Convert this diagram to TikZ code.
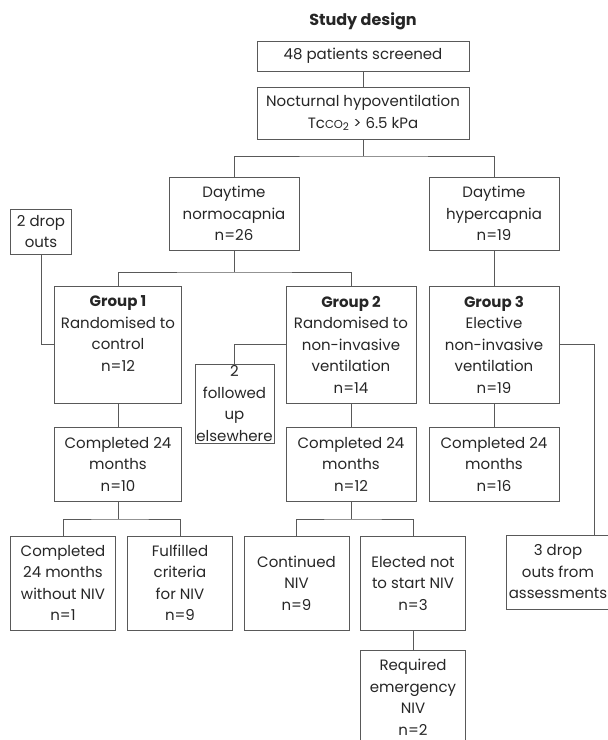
\documentclass[tikz,border=0pt]{standalone}
\usepackage{fontspec}
\setmainfont{Poppins}
\newcommand{\boxfont}{\fontsize{15}{21.5}\selectfont}
\tikzset{
  box/.style={draw=black!65, line width=1pt, text=black!85, align=center,
    inner sep=0pt, font=\boxfont},
  link/.style={draw=black!65, line width=1pt},
}

\begin{document}
\begin{tikzpicture}[x=1pt,y=1pt,yscale=-1,xscale=1]
\path[use as bounding box] (0,0) rectangle (608,740);
\clip (0,0) rectangle (608,740);
%Title
\node[text=black!85, font=\fontsize{16}{18}\selectfont\bfseries] (title) at (363,21) {Study design};

%Boxes: screening
\node[box, minimum width=212, minimum height=30] (screen) at (363,56) {48 patients screened};
\node[box, minimum width=212, minimum height=52] (noct) at (363,113) {Nocturnal hypoventilation\\Tc{\fontsize{11.5}{11.5}\selectfont CO}\textsubscript{2} > 6.5 kPa};

%Boxes: daytime
\node[box, minimum width=130, minimum height=73] (normo) at (234,213.5) {Daytime\\normocapnia\\n=26};
\node[box, minimum width=130, minimum height=73] (hyper) at (494,213.5) {Daytime\\hypercapnia\\n=19};
\node[box, minimum width=61, minimum height=45] (drop1) at (41,231.5) {2 drop\\outs};

%Boxes: groups
\node[box, minimum width=127, minimum height=117] (g1) at (118,344.5) {\textbf{Group 1}\\Randomised to\\control\\n=12\\\mbox{}};
\node[box, minimum width=130, minimum height=117] (g2) at (351,344.5) {\textbf{Group 2}\\Randomised to\\non-invasive\\ventilation\\n=14};
\node[box, minimum width=130, minimum height=117] (g3) at (494,344.5) {\textbf{Group 3}\\Elective\\non-invasive\\ventilation\\n=19};
\node[box, minimum width=79, minimum height=79] (fu) at (234.5,403.5) {2\\followed\\up\\elsewhere};

%Boxes: 24 months
\node[box, minimum width=127, minimum height=74] (c1) at (118,464) {Completed 24\\months\\n=10};
\node[box, minimum width=130, minimum height=74] (c2) at (351,464) {Completed 24\\months\\n=12};
\node[box, minimum width=130, minimum height=74] (c3) at (494,464) {Completed 24\\months\\n=16};

%Boxes: outcomes
\node[box, minimum width=105, minimum height=94] (w1) at (63,583) {Completed\\24 months\\without NIV\\n=1};
\node[box, minimum width=105, minimum height=94] (f1) at (180,583) {Fulfilled\\criteria\\for NIV\\n=9};
\node[box, minimum width=105, minimum height=94] (cn) at (296.5,583) {Continued\\NIV\\n=9};
\node[box, minimum width=105, minimum height=94] (el) at (413,583) {Elected not\\to start NIV\\n=3};
\node[box, minimum width=105, minimum height=95] (em) at (413,697.5) {Required\\emergency\\NIV\\n=2};
\node[box, minimum width=104, minimum height=74] (drop3) at (558,572) {3 drop\\outs from\\assessments};

%Split points
\coordinate (s1) at (363,156);
\coordinate (s2) at (234,272);
\coordinate (s3) at (118,519);
\coordinate (s4) at (351,519);
\coordinate (d3) at (594,535);

%Connectors
\draw[link] (screen) -- (noct);
\draw[link] (noct) -- (s1);
\draw[link] (normo.north) |- (s1) -| (hyper.north);
\draw[link] (normo) -- (s2);
\draw[link] (g1.north) |- (s2) -| (g2.north);
\draw[link] (hyper) -- (g3);
\draw[link] (drop1.south) |- (g1.west);
\draw[link] (fu.north) |- (g2.west);
\draw[link] (g3.east) -| (d3);
\draw[link] (g1) -- (c1);
\draw[link] (g2) -- (c2);
\draw[link] (g3) -- (c3);
\draw[link] (c1) -- (s3);
\draw[link] (w1.north) |- (s3) -| (f1.north);
\draw[link] (c2) -- (s4);
\draw[link] (cn.north) |- (s4) -| (el.north);
\draw[link] (el) -- (em);

\end{tikzpicture}
\end{document}
